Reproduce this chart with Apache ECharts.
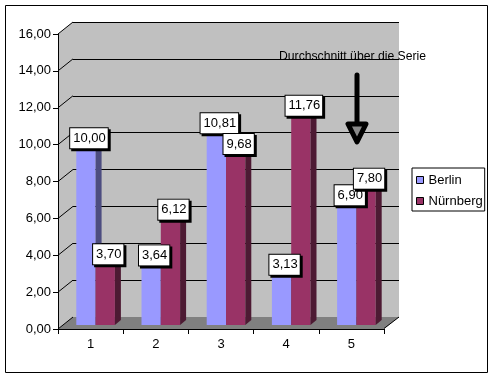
<!DOCTYPE html>
<html><head><meta charset="utf-8">
<script src="https://cdn.jsdelivr.net/npm/echarts@6/dist/echarts.min.js"></script>
<style>html,body{margin:0;padding:0;background:#fff}#c{width:493px;height:378px}</style>
</head><body><div id="c"></div>
<script>
// ---- data ----
const categories = ['1', '2', '3', '4', '5'];
const seriesNames = ['Berlin', 'Nürnberg'];
const berlin = [10.00, 3.64, 10.81, 3.13, 6.90];
const nuernberg = [3.70, 6.12, 9.68, 11.76, 7.80];
const yMin = 0, yMax = 16, yStep = 2;
const yTicks = [0, 2, 4, 6, 8, 10, 12, 14, 16];
const annotationText = 'Durchschnitt über die Serie';

// ---- layout / style ----
const FONT = '"Liberation Sans", Arial, sans-serif';
const fmt = v => Number(v).toFixed(2).replace('.', ',');
const front = {left: 58, top: 34, width: 326, height: 295};
const depth = {dx: 15, dy: -12};
const back = {left: front.left + depth.dx, top: front.top + depth.dy, width: front.width, height: front.height};
const colors = {
  'Berlin':   {front: '#9999FF', top: '#8585E8', side: '#4D4D80'},
  'Nürnberg': {front: '#993366', top: '#862D59', side: '#4D1A33'}
};

function makeRender(pos, name, z2base) {
  const col = colors[name];
  return function (params, api) {
    const idx = api.value(0), val = api.value(1);
    const c = api.coord([idx, val]);
    const c0 = api.coord([idx, 0]);
    const bw = api.size([1, 0])[0];
    const barW = bw * 0.296;
    const sx = 5, sy = -4, dx = 6, dy = -5;
    const x0 = pos === 0 ? c[0] + sx - barW : c[0] + sx;
    const x1 = x0 + barW;
    const yT = c[1] + sy, yB = c0[1] + sy;
    return {
      type: 'group',
      children: [
        {type: 'rect', z2: z2base, shape: {x: x0, y: yT, width: barW, height: yB - yT}, style: {fill: col.front}},
        {type: 'polygon', z2: z2base, shape: {points: [[x1, yB], [x1 + dx, yB + dy], [x1 + dx, yT + dy], [x1, yT]]}, style: {fill: col.side}},
        {type: 'polygon', z2: z2base, shape: {points: [[x0, yT], [x0 + dx, yT + dy], [x1 + dx, yT + dy], [x1, yT]]}, style: {fill: col.top}},
        {type: 'text', z2: 100 + z2base, x: (x0 + x1) / 2 + dx / 2, y: yT + dy / 2,
          style: {text: fmt(val), align: 'center', verticalAlign: 'middle', fill: '#000',
            font: '13px ' + FONT, backgroundColor: '#fff', borderColor: '#000', borderWidth: 1,
            padding: [4, 2, 3, 3], shadowColor: '#000', shadowOffsetX: 2, shadowOffsetY: 2, shadowBlur: 0}}
      ]
    };
  };
}

const chart = echarts.init(document.getElementById('c'), null, {renderer: 'canvas'});

const baseOption = {
  animation: false,
  backgroundColor: '#fff',
  textStyle: {fontFamily: FONT},
  grid: [
    {left: front.left, top: front.top, width: front.width, height: front.height, containLabel: false, show: false},
    {left: back.left, top: back.top, width: back.width, height: back.height, containLabel: false,
      show: true, backgroundColor: '#C0C0C0', borderWidth: 0}
  ],
  xAxis: [
    {type: 'category', gridIndex: 0, data: categories, boundaryGap: true, z: 3,
      axisLine: {show: true, lineStyle: {color: '#000', width: 1}},
      axisTick: {show: true, length: 5, lineStyle: {color: '#000'}},
      axisLabel: {color: '#000', fontSize: 13, fontFamily: FONT, margin: 9},
      splitLine: {show: false}},
    {type: 'category', gridIndex: 1, data: categories, show: false}
  ],
  yAxis: [
    {type: 'value', gridIndex: 0, min: yMin, max: yMax, interval: yStep, z: 3,
      axisLine: {show: true, lineStyle: {color: '#000', width: 1}},
      axisTick: {show: true, length: 5, lineStyle: {color: '#000'}},
      axisLabel: {color: '#000', fontSize: 13, fontFamily: FONT, margin: 7, formatter: v => fmt(v)},
      splitLine: {show: false}},
    {type: 'value', gridIndex: 1, min: yMin, max: yMax, interval: yStep,
      axisLine: {show: false}, axisTick: {show: false}, axisLabel: {show: false},
      splitLine: {show: true, lineStyle: {color: '#000', width: 1}}}
  ],
  legend: {
    data: seriesNames, orient: 'vertical', left: 412, top: 168,
    icon: 'rect', itemWidth: 7, itemHeight: 7, itemGap: 7,
    padding: [5, 2, 3, 4], backgroundColor: '#fff', borderColor: '#000', borderWidth: 1, borderRadius: 0,
    itemStyle: {borderColor: '#000', borderWidth: 1},
    textStyle: {color: '#000', fontSize: 13, fontFamily: FONT, lineHeight: 14}
  },
  series: [
    {name: seriesNames[0], type: 'custom', xAxisIndex: 0, yAxisIndex: 0,
      itemStyle: {color: colors['Berlin'].front},
      data: berlin.map((v, i) => [i, v]), encode: {x: 0, y: 1},
      renderItem: makeRender(0, 'Berlin', 1)},
    {name: seriesNames[1], type: 'custom', xAxisIndex: 0, yAxisIndex: 0,
      itemStyle: {color: colors['Nürnberg'].front},
      data: nuernberg.map((v, i) => [i, v]), encode: {x: 0, y: 1},
      renderItem: makeRender(1, 'Nürnberg', 2)}
  ]
};
chart.setOption(baseOption);

// decorations derived from the axes' scales
const g = [];
const fx = front.left, bx = back.left;
const fy0 = chart.convertToPixel({yAxisIndex: 0}, 0);
const by0 = chart.convertToPixel({yAxisIndex: 1}, 0);
const fyTop = chart.convertToPixel({yAxisIndex: 0}, yMax);
const byTop = chart.convertToPixel({yAxisIndex: 1}, yMax);
const fxR = front.left + front.width, bxR = back.left + back.width;
// side wall
g.push({type: 'polygon', z: 1, shape: {points: [[fx, fyTop], [bx, byTop], [bx, by0], [fx, fy0]]}, style: {fill: '#C0C0C0'}});
// floor
g.push({type: 'polygon', z: 1, shape: {points: [[fx, fy0], [fxR, fy0], [bxR, by0], [bx, by0]]}, style: {fill: '#808080'}});
g.push({type: 'line', z: 1, shape: {x1: fxR, y1: fy0 - 0.5, x2: bxR, y2: by0}, style: {stroke: '#000', lineWidth: 1}});
// side wall gridlines
yTicks.forEach(v => {
  const yf = chart.convertToPixel({yAxisIndex: 0}, v);
  const yb = chart.convertToPixel({yAxisIndex: 1}, v);
  g.push({type: 'line', z: 1, shape: {x1: fx, y1: yf, x2: bx, y2: yb}, style: {stroke: '#000', lineWidth: 1}});
});
// annotation
g.push({type: 'text', z: 10, x: 279, y: 57, style: {text: annotationText, font: '12.2px ' + FONT, fill: '#000', align: 'left', verticalAlign: 'middle'}});
g.push({type: 'line', z: 10, shape: {x1: 357, y1: 75, x2: 357, y2: 124}, style: {stroke: '#000', lineWidth: 5, lineCap: 'round'}});
g.push({type: 'polygon', z: 10, shape: {points: [[348, 124], [366, 124], [357, 142]]}, style: {fill: '#8a8a8a', stroke: '#000', lineWidth: 5, lineJoin: 'round'}});
// outer frame
g.push({type: 'rect', z: 10, shape: {x: 5.5, y: 5.5, width: 482, height: 367}, style: {fill: 'none', stroke: '#000', lineWidth: 1}});
chart.setOption({graphic: g});
</script>
</body></html>
